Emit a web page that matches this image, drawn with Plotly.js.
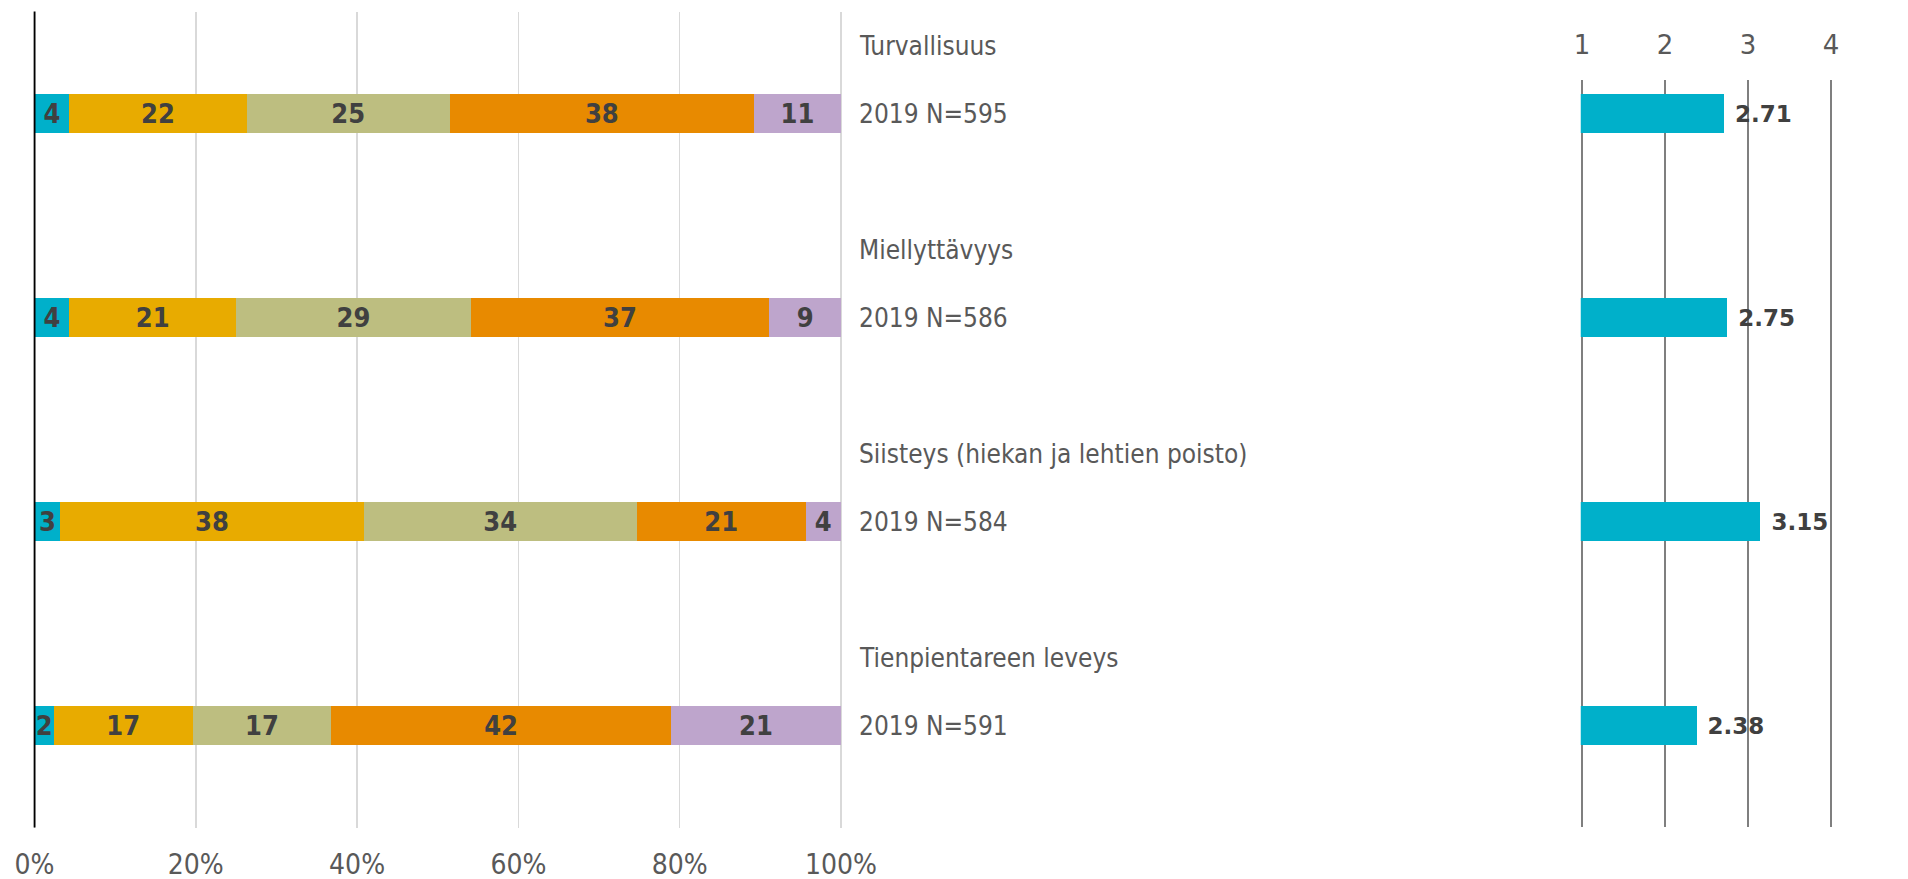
<!DOCTYPE html>
<html>
<head>
<meta charset="utf-8">
<script src="https://cdn.plot.ly/plotly-3.0.1.min.js"></script>
<style>
  html, body { margin: 0; padding: 0; background: #ffffff; }
  #chart { width: 1908px; height: 879px; }
</style>
</head>
<body>
<div id="chart"></div>
<script>
// ---- data ----
var categories = ['Turvallisuus', 'Miellyttävyys', 'Siisteys (hiekan ja lehtien poisto)', 'Tienpientareen leveys'];
var sampleLabels = ['2019 N=595', '2019 N=586', '2019 N=584', '2019 N=591'];
var rowIndex = [0, 1, 2, 3];
var share1 = [4.3, 4.3, 3.2, 2.4];
var share2 = [22.0, 20.7, 37.6, 17.2];
var share3 = [25.2, 29.1, 33.9, 17.2];
var share4 = [37.7, 37.0, 20.9, 42.1];
var share5 = [10.8, 8.9, 4.4, 21.1];
var means = [2.71, 2.75, 3.15, 2.38];
var pctTicks = [0, 20, 40, 60, 80, 100];
var pctTickText = ['0%', '20%', '40%', '60%', '80%', '100%'];
var meanTicks = [1, 2, 3, 4];

// ---- styles ----
var seriesColors = ['#00B0CA', '#E8AB00', '#BDBE80', '#E88A00', '#BEA5CC'];
var condFont = '"DejaVu Sans Condensed", "Liberation Sans Narrow", "DejaVu Sans", sans-serif';
var plainFont = '"DejaVu Sans", Verdana, sans-serif';
var shares = [share1, share2, share3, share4, share5];

// pixel geometry helpers (layout only)
var W = 1908, H = 879;
var leftX0 = 34.5, leftX100 = 841;            // px of 0% and 100%
var leftPad = 0.15;                            // % units of extra range so edge gridlines draw
var pxPerPct = (leftX100 - leftX0) / 100;
var rightX1 = 1582, rightX4 = 1831;            // px of 1 and 4
var rightPad = 0.015;
var pxPerUnit = (rightX4 - rightX1) / 3;

var traces = shares.map(function (vals, k) {
  return {
    type: 'bar',
    orientation: 'h',
    x: vals,
    y: rowIndex,
    xaxis: 'x',
    yaxis: 'y',
    width: 0.19,
    marker: { color: seriesColors[k], line: { width: 0 } },
    texttemplate: '%{x:.0f}',
    textposition: 'inside',
    insidetextanchor: 'middle',
    textangle: 0,
    constraintext: 'none',
    textfont: { family: condFont, size: 27, color: '#404040', weight: 'bold' },
    hoverinfo: 'skip',
    showlegend: false
  };
});

traces.push({
  type: 'bar',
  orientation: 'h',
  x: means,
  y: rowIndex,
  xaxis: 'x2',
  yaxis: 'y2',
  width: 0.19,
  marker: { color: '#00B0CA', line: { width: 0 } },
  texttemplate: '\u00a0%{x:.2f}',
  textposition: 'outside',
  cliponaxis: false,
  constraintext: 'none',
  textfont: { family: plainFont, size: 23, color: '#404040', weight: 'bold' },
  hoverinfo: 'skip',
  showlegend: false
});

var annotations = [];
rowIndex.forEach(function (i) {
  annotations.push({
    xref: 'paper', yref: 'y', x: 857 / W, y: i,
    xanchor: 'left', yanchor: 'middle', showarrow: false,
    text: sampleLabels[i],
    font: { family: condFont, size: 26, color: '#595959' }
  });
  annotations.push({
    xref: 'paper', yref: 'y', x: 857 / W, y: i, yshift: 68,
    xanchor: 'left', yanchor: 'middle', showarrow: false,
    text: categories[i],
    font: { family: condFont, size: 26, color: '#595959' }
  });
});

var layout = {
  width: W,
  height: H,
  margin: { l: 0, r: 0, t: 0, b: 0 },
  paper_bgcolor: '#ffffff',
  plot_bgcolor: 'rgba(0,0,0,0)',
  barmode: 'stack',
  showlegend: false,
  xaxis: {
    domain: [(leftX0 - leftPad * pxPerPct) / W, (leftX100 + leftPad * pxPerPct) / W],
    range: [-leftPad, 100 + leftPad],
    autorange: false,
    anchor: 'y',
    tickvals: pctTicks,
    ticktext: pctTickText,
    showgrid: true,
    gridcolor: '#D9D9D9',
    gridwidth: 1.5,
    zeroline: false,
    showline: false,
    ticks: '',
    ticklabelstandoff: 17,
    tickfont: { family: condFont, size: 28, color: '#595959' },
    fixedrange: true
  },
  yaxis: {
    domain: [1 - 827.5 / H, 1 - 11.5 / H],
    range: [3.5, -0.5],
    autorange: false,
    anchor: 'x',
    showticklabels: false,
    showgrid: false,
    zeroline: false,
    showline: false,
    ticks: '',
    fixedrange: true
  },
  xaxis2: {
    domain: [(rightX1 - rightPad * pxPerUnit) / W, (rightX4 + rightPad * pxPerUnit) / W],
    range: [1 - rightPad, 4 + rightPad],
    autorange: false,
    anchor: 'y2',
    side: 'top',
    tickvals: meanTicks,
    showgrid: true,
    gridcolor: '#7F7F7F',
    gridwidth: 2,
    zeroline: false,
    showline: false,
    ticks: '',
    ticklabelstandoff: 20,
    tickfont: { family: plainFont, size: 26, color: '#595959' },
    fixedrange: true
  },
  yaxis2: {
    domain: [1 - 827 / H, 1 - 80 / H],
    range: [(827 - 113.5) / 204, (80 - 113.5) / 204],
    autorange: false,
    anchor: 'x2',
    showticklabels: false,
    showgrid: false,
    zeroline: false,
    showline: false,
    ticks: '',
    fixedrange: true
  },
  shapes: [{
    // left vertical axis line at 0%
    type: 'line', xref: 'x', yref: 'paper',
    x0: 0, x1: 0, y0: 1 - 827.5 / H, y1: 1 - 11.5 / H,
    line: { color: '#000000', width: 2 }, layer: 'above'
  }],
  annotations: annotations
};

Plotly.newPlot('chart', traces, layout, { displayModeBar: false, staticPlot: true });
</script>
</body>
</html>
